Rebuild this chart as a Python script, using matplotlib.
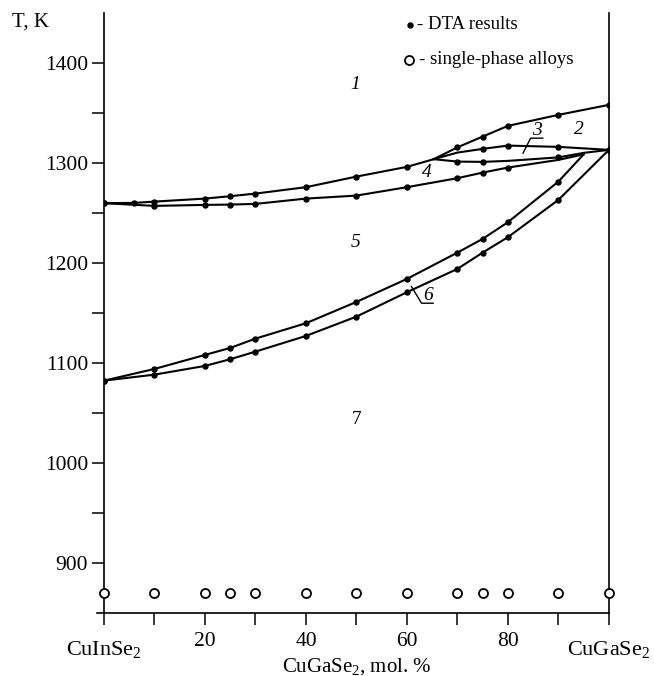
import matplotlib
matplotlib.use("Agg")
import matplotlib.pyplot as plt
from matplotlib.ticker import FixedLocator

plt.rcParams['font.family'] = ['Liberation Serif', 'DejaVu Serif']
plt.rcParams['mathtext.fontset'] = 'custom'
plt.rcParams['mathtext.rm'] = 'Liberation Serif'
plt.rcParams['mathtext.it'] = 'Liberation Serif:italic'

# liquidus (upper boundary of region 1)
liq_x = [0, 6, 10, 20, 25, 30, 40, 50, 60, 65.3, 70, 75, 80, 90, 100]
liq_t = [1259.7, 1260.0, 1261.3, 1264.3, 1266.7, 1269.3, 1275.7, 1286.3,
         1296.0, 1303.7, 1315.5, 1326.3, 1337.0, 1348.0, 1358.0]
liq_dots = [0, 1, 2, 3, 4, 5, 6, 7, 8, 10, 11, 12, 13, 14]

# upper line of the lens (region 3)
lensu_x = [65.3, 70, 75, 80, 90, 100]
lensu_t = [1303.7, 1310.3, 1314.0, 1317.3, 1316.0, 1313.0]
lensu_dots = [2, 3, 4, 5]

# lower line of the lens
lensl_x = [65.3, 70, 75, 80, 90, 95, 100]
lensl_t = [1303.7, 1301.3, 1301.0, 1302.0, 1305.5, 1310.0, 1313.0]
lensl_dots = [1, 2, 4]

# solidus below region 4
sol_x = [0, 10, 20, 25, 30, 40, 50, 60, 70, 75, 80, 90, 95]
sol_t = [1259.7, 1257.0, 1258.0, 1258.3, 1259.0, 1264.3, 1267.3, 1275.7,
         1284.7, 1290.3, 1295.3, 1303.0, 1308.5]
sol_dots = [0, 1, 2, 3, 4, 5, 6, 7, 8, 9, 10]

# upper boundary of region 6
r6u_x = [0, 10, 20, 25, 30, 40, 50, 60, 70, 75, 80, 90, 95]
r6u_t = [1082.3, 1094.0, 1108.0, 1115.0, 1124.3, 1139.7, 1161.0, 1184.0,
         1210.3, 1224.0, 1240.7, 1281.3, 1308.5]
r6u_dots = [0, 1, 2, 3, 4, 5, 6, 7, 8, 9, 10, 11]

# lower boundary of region 6
r6l_x = [0, 10, 20, 25, 30, 40, 50, 60, 70, 75, 80, 90, 100]
r6l_t = [1082.3, 1088.3, 1097.0, 1103.7, 1111.3, 1127.0, 1146.3, 1170.7,
         1194.0, 1210.3, 1225.7, 1263.0, 1313.0]
r6l_dots = list(range(len(r6l_x)))

# single-phase alloys
alloy_x = [0, 10, 20, 25, 30, 40, 50, 60, 70, 75, 80, 90, 100]
alloy_t = 870

curves = [(liq_x, liq_t, liq_dots), (lensu_x, lensu_t, lensu_dots),
          (lensl_x, lensl_t, lensl_dots), (sol_x, sol_t, sol_dots),
          (r6u_x, r6u_t, r6u_dots), (r6l_x, r6l_t, r6l_dots)]

fig = plt.figure(figsize=(6.54, 6.76), dpi=100)
ax = fig.add_axes([0.159, 0.0932, 0.772, 0.8878])

for xs, ts, dots in curves:
    ax.plot(xs, ts, color='black', lw=1.5, marker='o', ms=3.6,
            markevery=dots, zorder=3)

ax.plot(alloy_x, [alloy_t] * len(alloy_x), ls='none', marker='o', ms=6.5,
        mfc='white', mec='black', mew=1.3, clip_on=False, zorder=4)

ax.set_xlim(0, 100)
ax.set_ylim(850, 1450)

ax.spines['top'].set_visible(False)
for s in ['left', 'right', 'bottom']:
    ax.spines[s].set_linewidth(1.2)
ax.spines['bottom'].set_bounds(-1.4, 100)

ax.xaxis.set_major_locator(FixedLocator(range(0, 101, 10)))
ax.set_xticklabels(['', '', '20', '', '40', '', '60', '', '80', '', ''])
ax.yaxis.set_major_locator(FixedLocator([900, 1000, 1100, 1200, 1300, 1400]))
ax.yaxis.set_minor_locator(FixedLocator([950, 1050, 1150, 1250, 1350]))
ax.tick_params(axis='both', which='both', direction='out', length=8.5,
               width=1.1, labelsize=15.5)
ax.tick_params(axis='x', which='both', pad=5)
ax.tick_params(axis='y', which='both', right=False, pad=3)

ax.text(0, -0.06, 'CuInSe$_2$', transform=ax.get_xaxis_transform(),
        ha='center', va='center', fontsize=16)
ax.text(100, -0.06, 'CuGaSe$_2$', transform=ax.get_xaxis_transform(),
        ha='center', va='center', fontsize=16)
ax.text(50, -0.09, 'CuGaSe$_2$, mol. %', transform=ax.get_xaxis_transform(),
        ha='center', va='center', fontsize=15)
fig.text(12 / 654, 1 - 22 / 676, 'T, K', ha='left', va='center', fontsize=15)

# legend drawn by hand
ax.plot([60.6], [1438], 'ko', ms=3.6)
ax.text(61.9, 1438, '- DTA results', ha='left', va='center', fontsize=13.5)
ax.plot([60.4], [1403], 'o', ms=6.5, mfc='white', mec='black', mew=1.3)
ax.text(62.4, 1403, '- single-phase alloys', ha='left', va='center',
        fontsize=13.5)

# region labels
for lx, lt, lab, st in [(49.8, 1378, '1', 'italic'), (94, 1333, '2', 'italic'),
                        (85.7, 1332, '3', 'italic'), (64, 1290, '4', 'italic'),
                        (49.8, 1220, '5', 'italic'), (64.2, 1167, '6', 'italic'),
                        (50, 1043, '7', 'normal')]:
    ax.text(lx, lt, lab, ha='center', va='center', fontsize=14, style=st)

# leader lines for 3 and 6
ax.plot([83.0, 84.5, 86.9], [1309.7, 1324.7, 1324.7], color='black', lw=1.0)
ax.plot([60.9, 62.9, 65.2], [1176.3, 1159.7, 1159.7], color='black', lw=1.0)

fig.savefig('out.png', dpi=100)
